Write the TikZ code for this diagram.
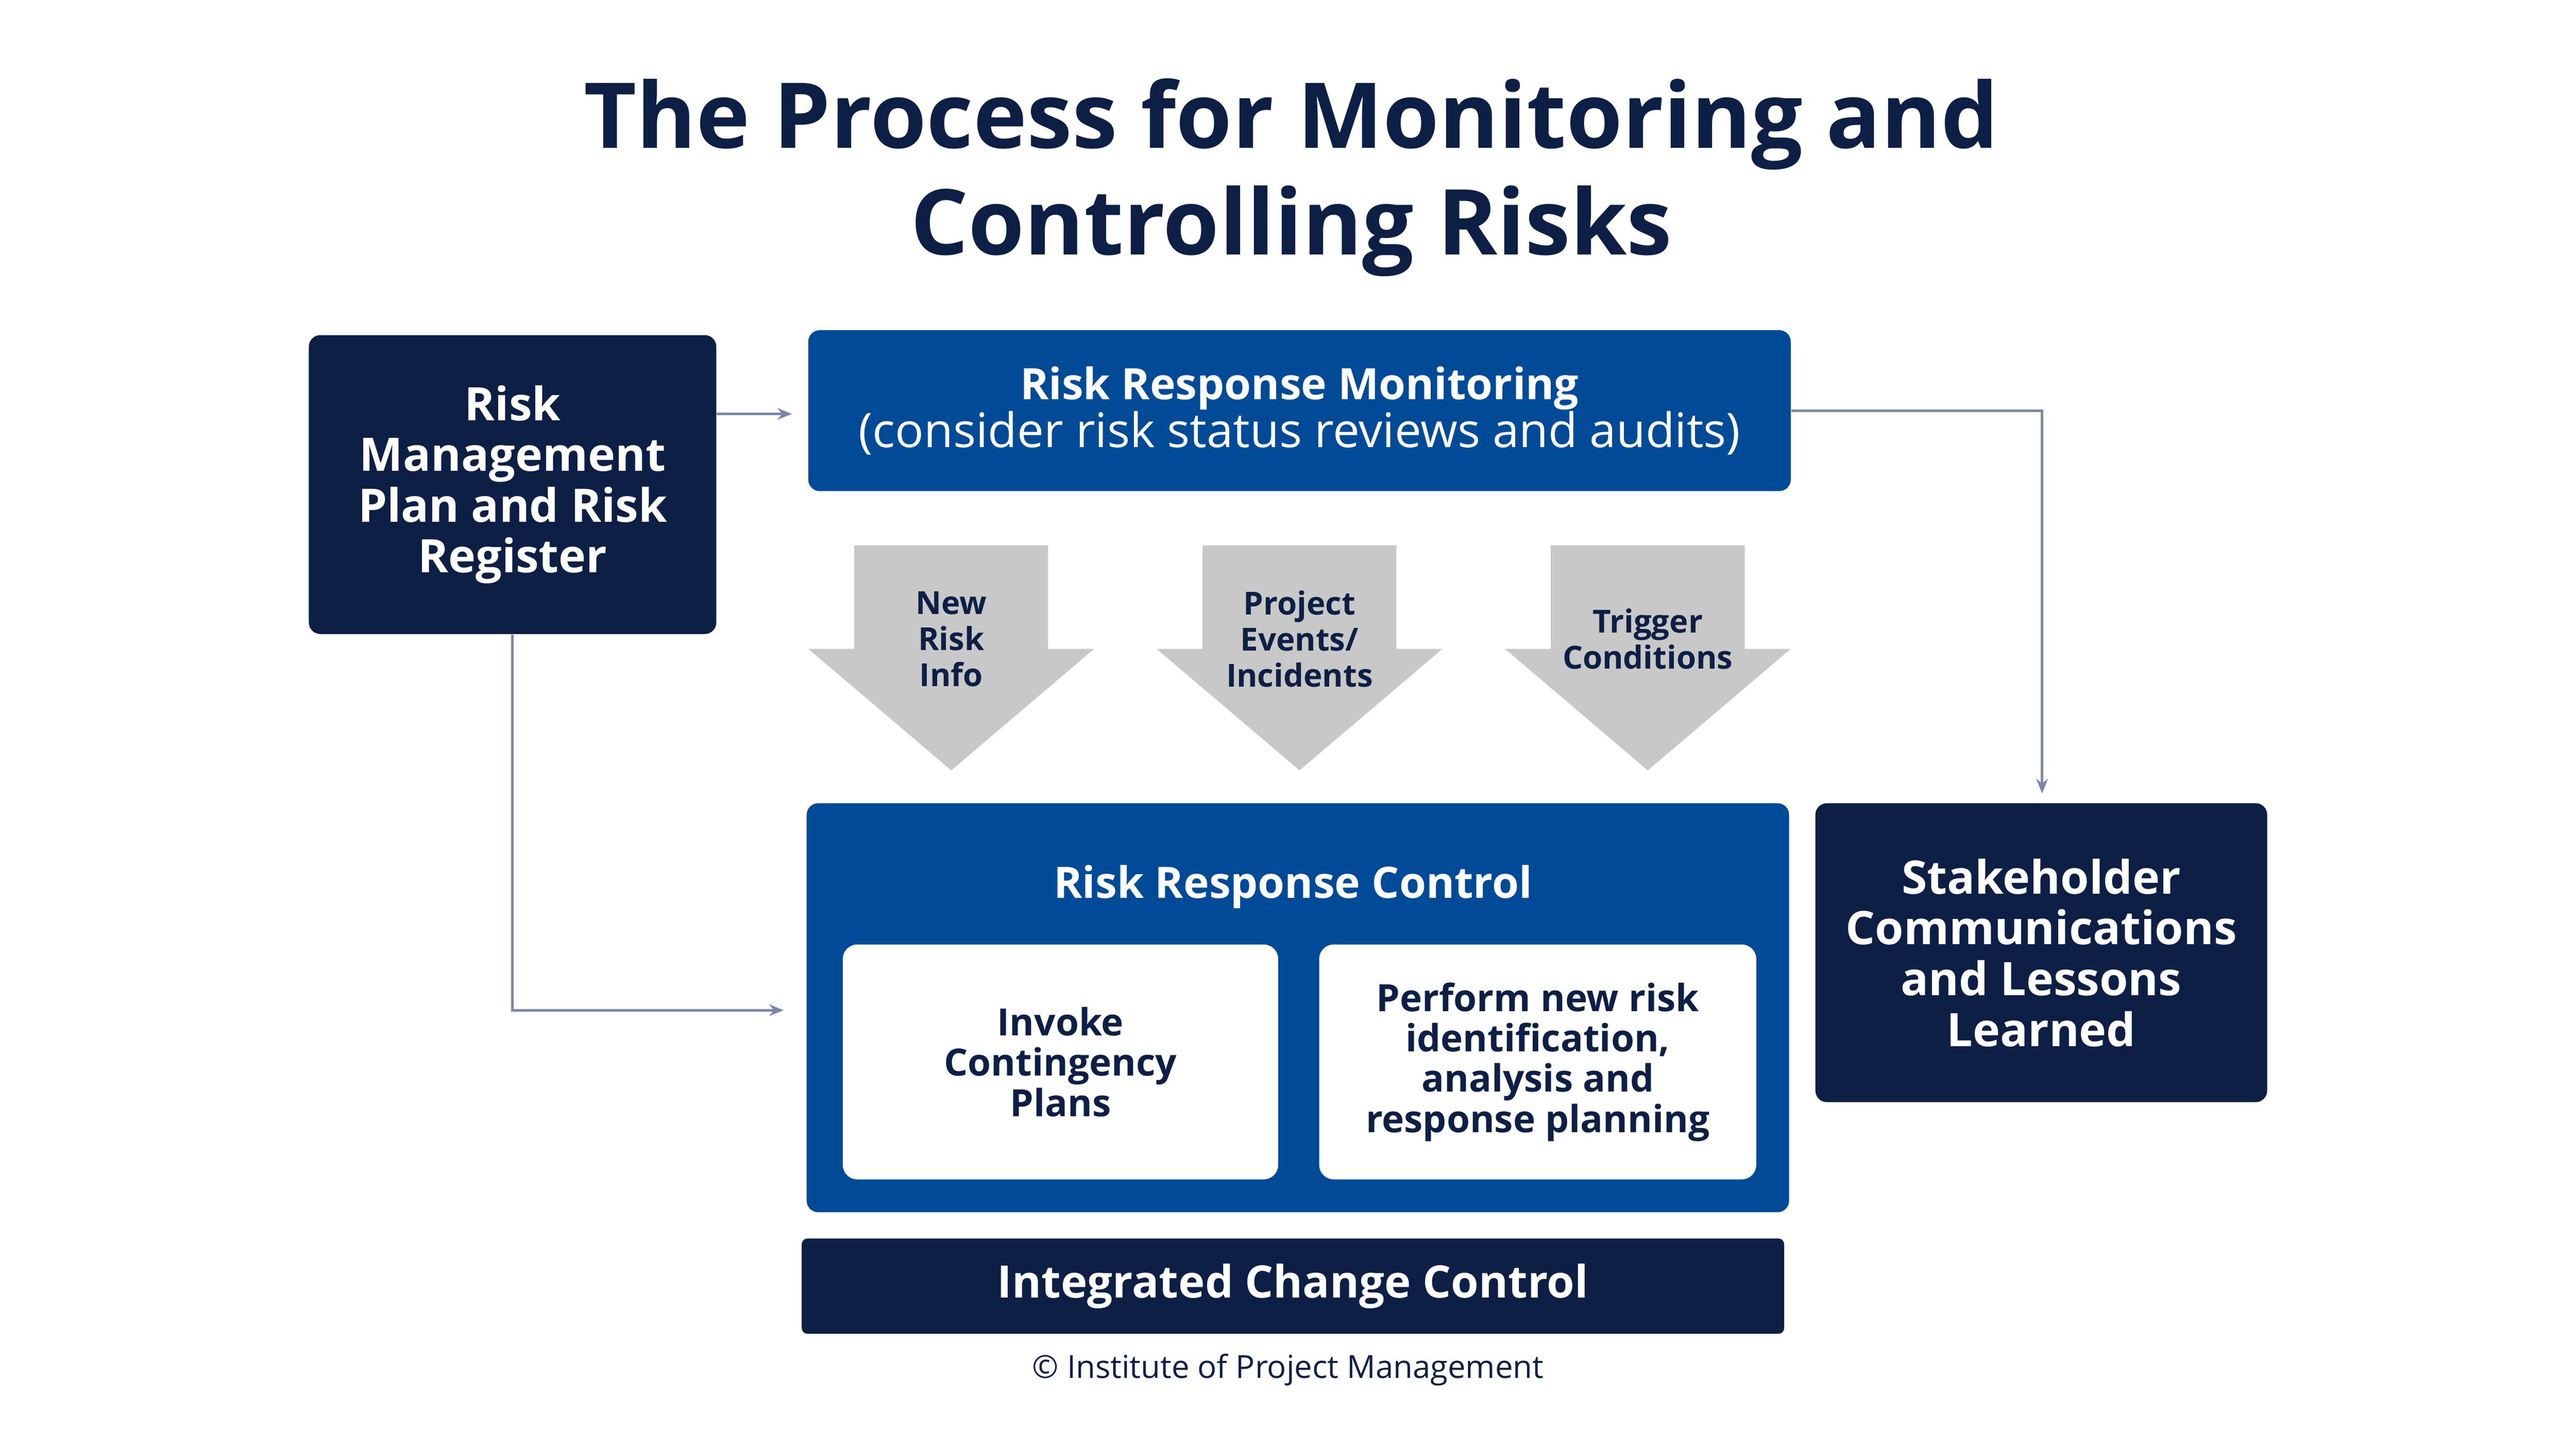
\documentclass[tikz,border=0pt]{standalone}
\usepackage{fontspec}
\setmainfont{Open Sans}
\usetikzlibrary{positioning, arrows.meta, calc}
\definecolor{navy}{HTML}{0D1F45}
\definecolor{rblue}{HTML}{004A97}
\definecolor{agrey}{HTML}{C8C8C8}
\definecolor{lgrey}{HTML}{7A88A8}
\tikzset{
  darkbox/.style={fill=navy, text=white, rounded corners=4pt, align=center, inner sep=0pt,
    font=\fontsize{16}{17.6}\selectfont\bfseries},
  bluebox/.style={fill=rblue, text=white, rounded corners=4pt, align=center, inner sep=0pt},
  whitebox/.style={fill=white, text=navy, rounded corners=5pt, align=center, inner sep=0pt,
    font=\fontsize{13}{14}\selectfont\bfseries},
  downarrow/.style={fill=agrey},
  arrlabel/.style={text=navy, align=center, font=\fontsize{11}{12.5}\selectfont\bfseries},
  link/.style={draw=lgrey, line width=0.9pt, -{Stealth[length=5pt,width=4pt]}}
}
\begin{document}
\begin{tikzpicture}[x=0.02cm, y=-0.02cm]
\useasboundingbox (0,0) rectangle (1568,882);
		%Title
		\node (title) at (786,108) [text=navy, align=center,
		font=\fontsize{31.5}{37}\selectfont\bfseries]{The Process for Monitoring and\\Controlling Risks};
		
		%Boxes
		\node (plan) at (312,295) [darkbox, minimum width=248*0.02cm, minimum height=182*0.02cm]
		{Risk\\Management\\Plan and Risk\\Register};
		\node (monitor) at (791,250) [bluebox, minimum width=598*0.02cm, minimum height=98*0.02cm,
		font=\fontsize{15}{16.5}\selectfont\bfseries]
		{Risk Response Monitoring\\\fontsize{16.5}{16.5}\selectfont\mdseries(consider risk status reviews and audits)};
		\node (control) at (790,613.5) [bluebox, minimum width=598*0.02cm, minimum height=249*0.02cm]{};
		\node (ctitle) at (787,540) [text=white, font=\fontsize{15}{16.5}\selectfont\bfseries]
		{Risk Response Control};
		\node (invoke) at (645.5,646.5) [whitebox, minimum width=265*0.02cm, minimum height=143*0.02cm]
		{Invoke\\Contingency\\Plans};
		\node (perform) at (936,646.5) [whitebox, minimum width=266*0.02cm, minimum height=143*0.02cm]
		{Perform new risk\\identification,\\analysis and\\response planning};
		\node (stake) at (1242.5,580) [darkbox, minimum width=275*0.02cm, minimum height=182*0.02cm]
		{Stakeholder\\Communications\\and Lessons\\Learned};
		\node (change) at (787,783) [darkbox, rounded corners=2pt, minimum width=598*0.02cm,
		minimum height=58*0.02cm, font=\fontsize{15.5}{16.5}\selectfont\bfseries]
		{Integrated Change Control};
		\node (copy) at (784,834) [text=navy, font=\fontsize{11}{12}\selectfont]
		{© Institute of Project Management};
		
		%Grey arrows
		\foreach \cx/\name/\txt in {579/newinfo/{New\\Risk\\Info}, 791/events/{Project\\Events/\\Incidents},
		  1003/trigger/{Trigger\\Conditions}} {
		  \fill[downarrow] (\cx-59,332) -- (\cx+59,332) -- (\cx+59,395) -- (\cx+87,395)
		    -- (\cx,469) -- (\cx-87,395) -- (\cx-59,395) -- cycle;
		  \node (\name) at (\cx,389) [arrlabel]{\txt};
		}
		
		%Connectors
		\coordinate (monin) at (482,252);
		\coordinate (ctrlin) at (477,615);
		\coordinate (stakein) at (1243,483);
		\draw[link] (plan.east |- monin) -- (monin);
		\draw[link] (plan.south) |- (ctrlin);
		\draw[link] (monitor.east) -| (stakein);
\end{tikzpicture}
\end{document}
